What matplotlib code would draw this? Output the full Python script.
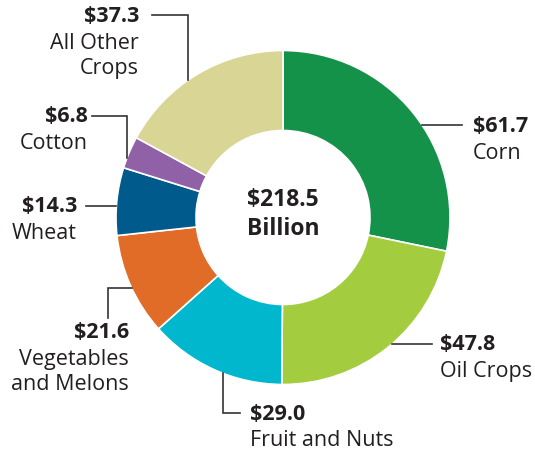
import numpy as np
import matplotlib
matplotlib.use('Agg')
import matplotlib.pyplot as plt

plt.rcParams['font.family'] = ['Open Sans', 'DejaVu Sans']

# Crop cash receipts, billion dollars (clockwise from 12 o'clock)
crops = ["Corn", "Oil Crops", "Fruit and Nuts", "Vegetables\nand Melons",
         "Wheat", "Cotton", "All Other\nCrops"]
values = [61.7, 47.8, 29.0, 21.6, 14.3, 6.8, 37.3]
colors = ["#14924a", "#a3cc3e", "#00b7cd", "#e06c28",
          "#005a8b", "#9161a8", "#d9d595"]
total_label = "$218.5\nBillion"

W, H = 535, 453
CX, CY = 283, H - 217.5
R_OUT, R_IN = 167, 87
TXT = "#231f20"
LINE = "#333333"
FS = 15.5

fig = plt.figure(figsize=(W / 100, H / 100), dpi=100)
ax = fig.add_axes([0, 0, 1, 1])

ax.pie(values, colors=colors, startangle=90, counterclock=False,
       center=(CX, CY), radius=R_OUT, frame=True,
       wedgeprops=dict(width=R_OUT - R_IN, edgecolor='white', linewidth=1.2))
ax.set_xlim(0, W)
ax.set_ylim(0, H)
ax.set_aspect('equal')
ax.axis('off')


def hit_x(y, side):
    # x where a horizontal line at y meets the outer ring
    return CX + side * np.sqrt(R_OUT ** 2 - (y - CY) ** 2)


def hit_y(x, side):
    # y where a vertical line at x meets the outer ring
    return CY + side * np.sqrt(R_OUT ** 2 - (x - CX) ** 2)


# label layout: text anchor (x, y from top), alignment, leader path
# leader: ('h', x0, y) straight across to ring; ('hv', x0, y, xv) across then down;
#         ('hv_up', ...) across then up; ('vh', x0, y0, yh) up then across
layout = [
    (473, 127, 'left', ('h', 462, 125)),
    (440, 345, 'left', ('h', 432, 344)),
    (250, 414, 'left', ('hv_up', 240, 413, 223)),
    (129, 333, 'right', ('vh', 108, 318, 288)),
    (77, 207, 'right', ('h', 86, 206)),
    (88, 117, 'right', ('hv', 92, 116, 127)),
    (139, 17, 'right', ('hv', 152, 15, 188)),
]

for val, name, (tx, ty, ha, lead) in zip(values, crops, layout):
    ax.text(tx, H - ty, f"${val:.1f}", ha=ha, va='center',
            fontsize=FS, fontweight='bold', color=TXT)
    ax.text(tx, H - ty - 16, name, ha=ha, va='top', fontsize=FS,
            color=TXT, linespacing=1.25)

    kind = lead[0]
    if kind == 'h':
        x0, y = lead[1], H - lead[2]
        side = 1 if x0 > CX else -1
        xs, ys = [x0, hit_x(y, side)], [y, y]
    elif kind == 'hv':
        x0, y, xv = lead[1], H - lead[2], lead[3]
        xs, ys = [x0, xv, xv], [y, y, hit_y(xv, 1)]
    elif kind == 'hv_up':
        x0, y, xv = lead[1], H - lead[2], lead[3]
        xs, ys = [x0, xv, xv], [y, y, hit_y(xv, -1)]
    else:
        x0, y0, yh = lead[1], H - lead[2], H - lead[3]
        xs, ys = [x0, x0, hit_x(yh, -1)], [y0, yh, yh]
    ax.plot(xs, ys, color=LINE, linewidth=1.2, solid_joinstyle='miter')

ax.text(CX, CY + 3, total_label, ha='center', va='center', fontsize=16.5,
        fontweight='bold', color=TXT, linespacing=1.3)

fig.savefig('out.png', dpi=100, facecolor='white')
